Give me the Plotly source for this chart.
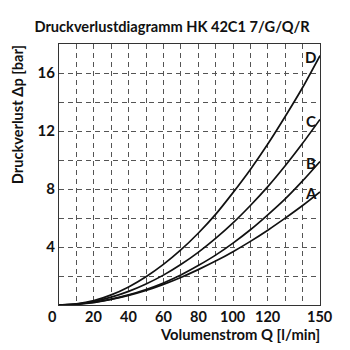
import plotly.graph_objects as go

# Volumenstrom Q [l/min]
q = [0, 10, 20, 30, 40, 50, 60, 70, 80, 90, 100, 110, 120, 130, 140, 150]
# Druckverlust Δp [bar] per curve
dp_a = [0, 0.05, 0.17, 0.38, 0.66, 1.0, 1.42, 1.9, 2.44, 3.03, 3.68, 4.39, 5.16, 5.99, 6.86, 7.8]
dp_b = [0, 0.05, 0.19, 0.41, 0.70, 1.07, 1.52, 2.07, 2.72, 3.44, 4.27, 5.19, 6.22, 7.32, 8.56, 9.9]
dp_c = [0, 0.06, 0.24, 0.54, 0.94, 1.45, 2.06, 2.79, 3.63, 4.59, 5.66, 6.86, 8.16, 9.6, 11.15, 12.8]
dp_d = [0, 0.08, 0.3, 0.7, 1.25, 1.95, 2.8, 3.8, 4.95, 6.25, 7.75, 9.35, 11.1, 13.0, 15.0, 17.2]
curve_names = ["A", "B", "C", "D"]

x_tickvals = list(range(0, 151, 10))
x_ticktext = ["0", "", "20", "", "40", "", "60", "", "80", "", "100", "", "120", "", "", "150"]
y_tickvals = list(range(0, 19, 2))
y_ticktext = ["", "", "4", "", "8", "", "12", "", "16", ""]

FONT = "Lato"
INK = "#111111"
def bfont(size):
    return dict(family=FONT, size=size, color=INK, weight="bold")

fig = go.Figure()
for name, ys in zip(curve_names, [dp_a, dp_b, dp_c, dp_d]):
    fig.add_trace(go.Scatter(x=q, y=ys, mode="lines", name=name,
                             line=dict(color=INK, width=1.7, shape="spline", smoothing=0.6),
                             showlegend=False, hoverinfo="skip"))
    fig.add_annotation(x=144.6, y=ys[-1] - 0.1, text=name, showarrow=False,
                       xanchor="center", yanchor="middle", font=bfont(15))

# x tick labels (placed just under the axis, the origin label sits left of the corner)
for v, t in zip(x_tickvals, x_ticktext):
    if t:
        fig.add_annotation(x=v, xref="x", y=0, yref="paper", text=t, showarrow=False,
                           xanchor="center", yanchor="middle", yshift=-11.5,
                           xshift=-7 if v == 0 else 0, font=bfont(14.5))

# axis titles
fig.add_annotation(xref="paper", yref="paper", x=1.008, y=-0.111, text="Volumenstrom Q [l/min]",
                   showarrow=False, xanchor="right", yanchor="middle", font=bfont(14.8))
fig.add_annotation(xref="paper", yref="paper", x=-0.158, y=1.004, text="Druckverlust Δp [bar]",
                   showarrow=False, xanchor="center", yanchor="top", textangle=-90, font=bfont(14.6))

fig.update_layout(
    width=350, height=350,
    margin=dict(l=59, r=30, t=44, b=45),
    paper_bgcolor="white", plot_bgcolor="white",
    title=dict(text="Druckverlustdiagramm HK 42C1 7/G/Q/R", x=(32 + 312) / 2 / 350, xanchor="center",
               y=1 - 27 / 350, yanchor="middle", font=bfont(14.6)),
    xaxis=dict(range=[0, 150], tickvals=x_tickvals, showticklabels=False,
               showgrid=True, gridcolor="#555555", gridwidth=1, griddash="5px,4px",
               showline=True, linecolor="#333333", linewidth=1, mirror=True,
               zeroline=False, ticks=""),
    yaxis=dict(range=[0, 18], tickvals=y_tickvals, ticktext=y_ticktext,
               showgrid=True, gridcolor="#555555", gridwidth=1, griddash="5px,4px",
               showline=True, linecolor="#333333", linewidth=1, mirror=True,
               zeroline=False, ticks="", tickfont=bfont(15)),
)
fig.write_html("out.html")
